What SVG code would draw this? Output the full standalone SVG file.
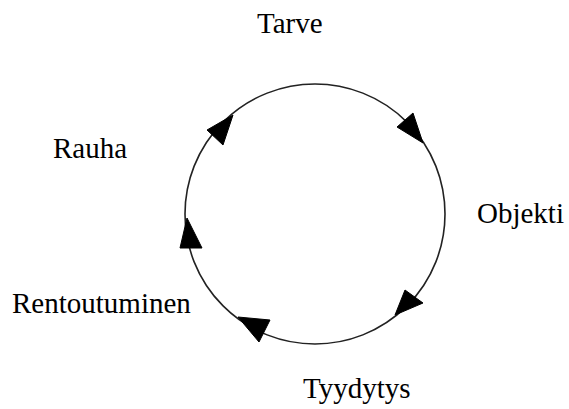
<svg xmlns="http://www.w3.org/2000/svg" width="569" height="409" viewBox="0 0 569 409">
<style>
.lbl{font-family:"Liberation Serif","Times New Roman",serif;font-size:29px;fill:#000}
.ring{fill:none;stroke:#222;stroke-width:1.6}
.head{fill:#000;stroke:#000;stroke-width:1}
</style>
<rect width="569" height="409" fill="#fff"/>
<g id="connectors">
<circle class="ring" cx="315" cy="214" r="130"/>
<polygon class="head" points="423,143 397,127 413,113"/>
<polygon class="head" points="395,315 405,290 423,303"/>
<polygon class="head" points="238,317 270,320 259,342"/>
<polygon class="head" points="187,218 180,248 202,248"/>
<polygon class="head" points="233,115 207,130 223,145"/>
</g>
<g id="tarve"><text class="lbl" x="257" y="33">Tarve</text></g>
<g id="objekti"><text class="lbl" x="477" y="223">Objekti</text></g>
<g id="tyydytys"><text class="lbl" x="303" y="398">Tyydytys</text></g>
<g id="rentoutuminen"><text class="lbl" x="12" y="313">Rentoutuminen</text></g>
<g id="rauha"><text class="lbl" x="53" y="158">Rauha</text></g>
</svg>
